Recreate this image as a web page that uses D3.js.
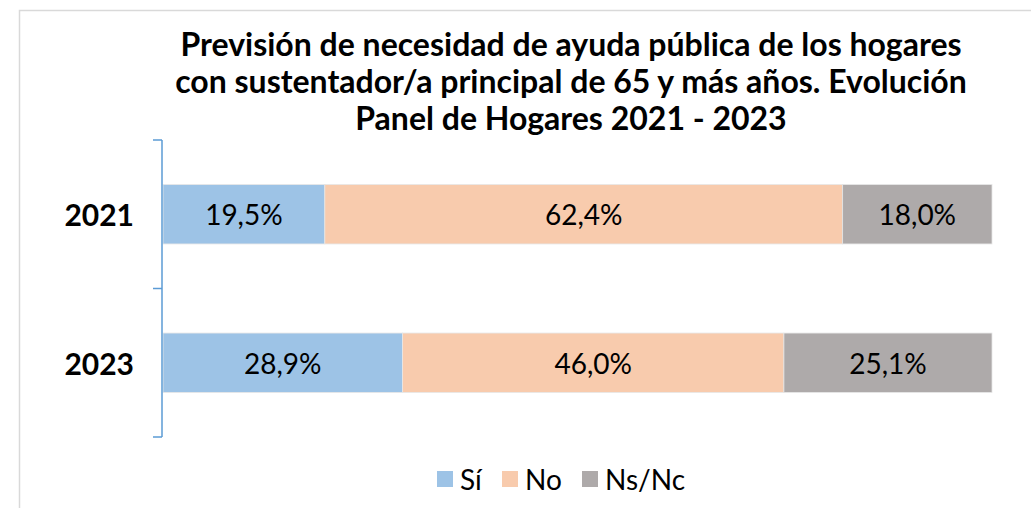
<!DOCTYPE html>
<html><head><meta charset="utf-8">
<script src="https://cdn.jsdelivr.net/npm/d3@7"></script>
<style>body{margin:0;background:#fff;}svg{display:block;font-family:Lato,'Open Sans',sans-serif;}</style>
</head><body>
<svg id="c" width="1031" height="508"></svg>
<script>
const categories = ["2021", "2023"];
const series = ["Sí", "No", "Ns/Nc"];
const valuesSi = [19.5, 28.9];
const valuesNo = [62.4, 46.0];
const valuesNsNc = [18.0, 25.1];
const colors = ["#9dc3e6", "#f8cbad", "#aeaaaa"];
const titleLines = ["Previsión de necesidad de ayuda pública de los hogares",
  "con sustentador/a principal de 65 y más años. Evolución",
  "Panel de Hogares 2021 - 2023"];

const svg = d3.select("#c");
svg.append("rect").attr("x",19.5).attr("y",10.5).attr("width",1030).attr("height",520)
  .attr("fill","#fff").attr("stroke","#d9d9d9").attr("stroke-width",1.5);

const table = categories.map((c,i)=>({cat:c, "Sí":valuesSi[i], "No":valuesNo[i], "Ns/Nc":valuesNsNc[i]}));
table.forEach(d=>{ const t=series.reduce((s,k)=>s+d[k],0); d.total=t; });
const stack = d3.stack().keys(series).value((d,k)=>d[k]/d.total*100);
const layers = stack(table);

const x = d3.scaleLinear().domain([0,100]).range([163,992]);
const y = d3.scaleBand().domain(categories).range([140,437]).paddingInner(0.6).paddingOuter(0.3);

const color = d3.scaleOrdinal().domain(series).range(colors);

const g = svg.append("g");
layers.forEach(layer=>{
  g.selectAll(null).data(layer).enter().append("rect")
    .attr("x",d=>x(d[0])).attr("y",d=>y(d.data.cat))
    .attr("width",d=>x(d[1])-x(d[0])).attr("height",y.bandwidth())
    .attr("fill",color(layer.key)).attr("stroke","#e6e6e6").attr("stroke-width",0.8);
  g.selectAll(null).data(layer).enter().append("text")
    .attr("x",d=>(x(d[0])+x(d[1]))/2).attr("y",d=>y(d.data.cat)+y.bandwidth()/2)
    .attr("text-anchor","middle").attr("dominant-baseline","central")
    .attr("font-size",28).attr("fill","#000")
    .text(d=>d.data[layer.key].toFixed(1).replace(".",",")+"%");
});

// category axis
const axisScale = d3.scaleBand().domain(categories).range([140,437]);
svg.append("line").attr("x1",162).attr("x2",162).attr("y1",140).attr("y2",437).attr("stroke","#5b9bd5").attr("stroke-width",1.5);
const bounds = [140, axisScale(categories[1]), 437];
bounds.forEach(b=>svg.append("line").attr("x1",153).attr("x2",162).attr("y1",b).attr("y2",b).attr("stroke","#5b9bd5").attr("stroke-width",1.5));
categories.forEach(c=>{
  svg.append("text").attr("x",134).attr("y",y(c)+y.bandwidth()/2)
    .attr("text-anchor","end").attr("dominant-baseline","central")
    .attr("font-size",30).attr("font-weight","bold").attr("fill","#000").text(c);
});

// title
titleLines.forEach((t,i)=>{
  svg.append("text").attr("x",571).attr("y",56+i*37).attr("text-anchor","middle")
    .attr("font-size",32).attr("font-weight","bold").attr("fill","#000").text(t);
});

// legend
const legX = [437, 502, 582];
series.forEach((s,i)=>{
  svg.append("rect").attr("x",legX[i]).attr("y",471).attr("width",16).attr("height",16).attr("fill",colors[i]);
  svg.append("text").attr("x",legX[i]+23).attr("y",479).attr("dominant-baseline","central")
    .attr("font-size",28).attr("fill","#000").text(s);
});
</script>
</body></html>
